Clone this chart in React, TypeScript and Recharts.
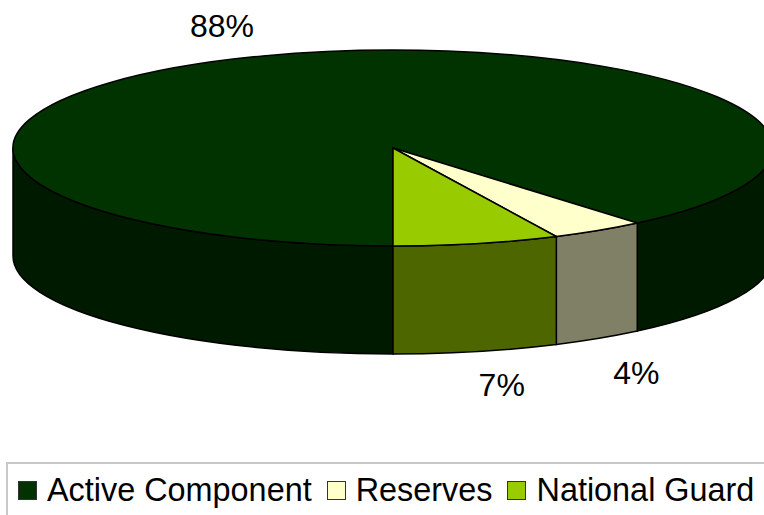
// App.tsx
import React from 'react';
import { PieChart, Pie, Legend } from 'recharts';

const categories = ['Active Component', 'Reserves', 'National Guard'];
const shares = [88, 4, 7];
const topColors = ['#003300', '#ffffcc', '#99cc00'];
const wallColors = ['#001a00', '#808066', '#4d6600'];

const pieData = categories.map((name, i) => ({
  name,
  value: shares[i],
  fill: topColors[i],
  wall: wallColors[i],
}));

// how far each label sits from the rim of its slice
const labelNudge = [
  { dx: -41, dy: -30 },
  { dx: 38, dy: 143 },
  { dx: 25, dy: 141 },
];

const FONT = '"Liberation Sans", Arial, sans-serif';
const TILT = 98 / 380;
const DEPTH = 108;
const RAD = Math.PI / 180;

const rimPoint = (cx: number, cy: number, rx: number, angle: number) => ({
  x: cx + rx * Math.cos(angle * RAD),
  y: cy - rx * TILT * Math.sin(angle * RAD),
});

// parts of [end, start] that face the viewer
const frontRanges = (start: number, end: number) => {
  const ranges: [number, number][] = [];
  for (const [lo, hi] of [[-180, 0], [180, 360]]) {
    const a = Math.min(start, hi);
    const b = Math.max(end, lo);
    if (a > b) ranges.push([a, b]);
  }
  return ranges;
};

const Slice3D = (props: any) => {
  const { cx, cy, outerRadius: rx, startAngle, endAngle, fill, wall } = props;
  const ry = rx * TILT;
  const from = rimPoint(cx, cy, rx, startAngle);
  const to = rimPoint(cx, cy, rx, endAngle);
  const large = Math.abs(startAngle - endAngle) > 180 ? 1 : 0;
  return (
    <g>
      {frontRanges(startAngle, endAngle).map(([a, b]) => {
        const p = rimPoint(cx, cy, rx, a);
        const q = rimPoint(cx, cy, rx, b);
        return (
          <path
            key={a}
            d={`M${p.x},${p.y} A${rx},${ry} 0 0 1 ${q.x},${q.y} L${q.x},${q.y + DEPTH} A${rx},${ry} 0 0 0 ${p.x},${p.y + DEPTH} Z`}
            fill={wall}
            stroke="#000"
            strokeWidth={1.5}
          />
        );
      })}
      <path
        d={`M${cx},${cy} L${from.x},${from.y} A${rx},${ry} 0 ${large} 1 ${to.x},${to.y} Z`}
        fill={fill}
        stroke="#000"
        strokeWidth={1.5}
      />
    </g>
  );
};

const renderLabel = (props: any) => {
  const { cx, cy, outerRadius, midAngle, value, index } = props;
  const p = rimPoint(cx, cy, outerRadius, midAngle);
  return (
    <text
      x={p.x + labelNudge[index].dx}
      y={p.y + labelNudge[index].dy}
      textAnchor="middle"
      dominantBaseline="central"
      fontFamily={FONT}
      fontSize={32}
      fill="#000"
    >
      {`${value}%`}
    </text>
  );
};

const renderLegend = (props: any) => (
  <div
    style={{
      display: 'flex',
      alignItems: 'center',
      height: 53,
      boxSizing: 'border-box',
      paddingLeft: 10,
      paddingTop: 2,
      borderTop: '2px solid #c8c8c8',
      borderLeft: '2px solid #c8c8c8',
      fontFamily: FONT,
      fontSize: 32.4,
      color: '#000',
      whiteSpace: 'nowrap',
    }}
  >
    {categories.map((name, i) => (
      <span key={name} style={{ display: 'flex', alignItems: 'center', marginRight: 15 }}>
        <span
          style={{
            width: 19,
            height: 19,
            boxSizing: 'border-box',
            border: '1px solid #333',
            marginRight: 10,
            background: topColors[i],
          }}
        />
        {name}
      </span>
    ))}
  </div>
);

export default function App() {
  return (
    <div style={{ position: 'absolute', left: 0, top: 0, width: 764, height: 515, overflow: 'hidden', background: '#fff' }}>
      <PieChart width={764} height={515} margin={{ top: 0, right: 0, bottom: 0, left: 0 }}>
        <Pie
          data={pieData}
          dataKey="value"
          nameKey="name"
          cx={393}
          cy={148}
          outerRadius={380}
          startAngle={270}
          endAngle={-90}
          stroke="none"
          shape={Slice3D}
          label={renderLabel}
          labelLine={false}
          isAnimationActive={false}
        />
        <Legend
          content={renderLegend}
          wrapperStyle={{ position: 'absolute', left: 6, top: 462, width: 758, height: 53, bottom: 'auto' }}
        />
      </PieChart>
    </div>
  );
}
